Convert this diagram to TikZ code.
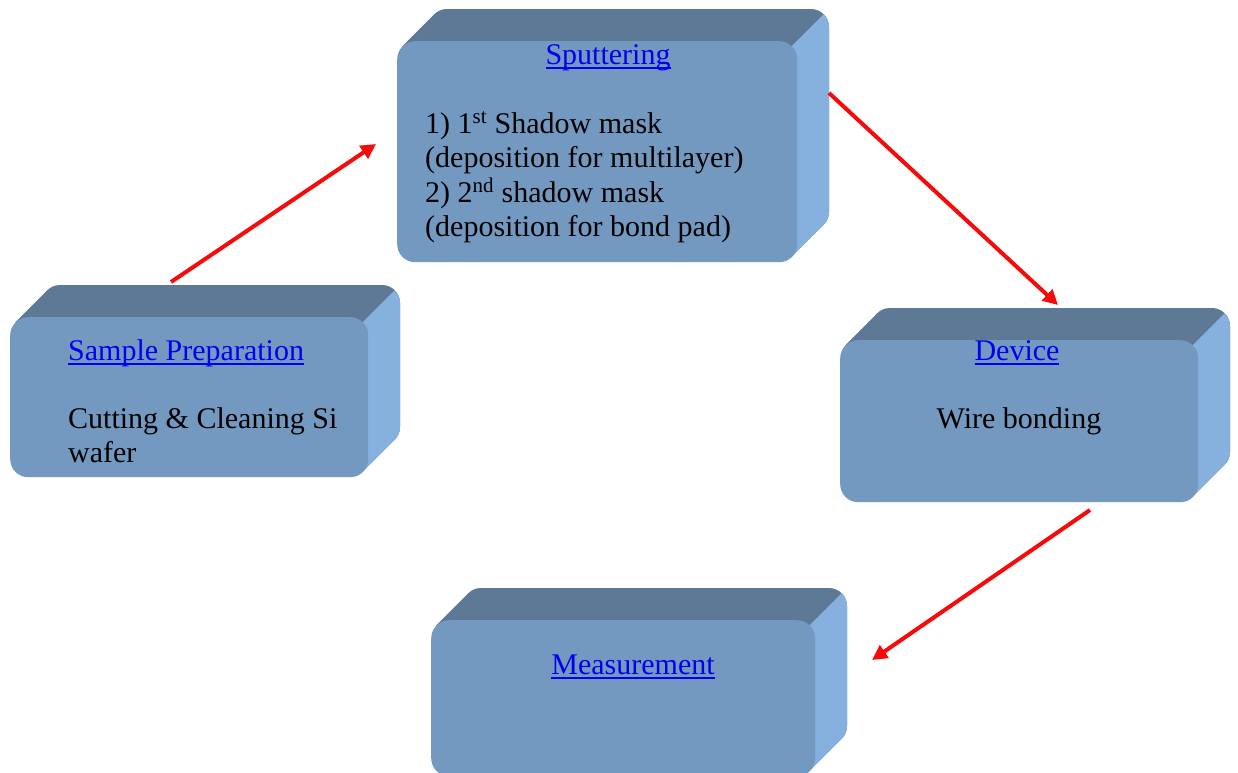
\documentclass[tikz,border=0pt]{standalone}
\usepackage{fontspec}
\setmainfont{Liberation Serif}
\usetikzlibrary{arrows.meta}
\definecolor{frontc}{HTML}{7499C1}
\definecolor{topc}{HTML}{5E7995}
\definecolor{sidec}{HTML}{86B1DE}
\definecolor{linkc}{HTML}{0000F0}
\definecolor{arrc}{HTML}{F70A0A}
\tikzset{
  lbl/.style={font=\fontsize{30}{34.5}\selectfont, inner sep=0pt, text=black},
  ttl/.style={font=\fontsize{30}{34.5}\selectfont, inner sep=0pt, text=linkc},
  flow/.style={draw=arrc, line width=4pt, -{Triangle[length=15pt,width=15pt]}},
}
\newcommand\ulink[1]{\setbox0\hbox{#1}\rlap{\rule[-4.6pt]{\wd0}{1.7pt}}\box0}
% sweep region of a rounded box, depth 32, radius 18 (tangent offset 5.3)
\newcommand\sweepfill[5]{%
  \fill[#1, rounded corners=18pt] (#2+32,#3-32) rectangle (#4+32,#5-32);
  \fill[#1] (#2+5.3,#3+5.3) -- (#2+37.3,#3-26.7) -- (#4+26.7,#3-26.7) -- (#4+26.7,#5-37.3) -- (#4-5.3,#5-5.3) -- (#2+5.3,#5-5.3) -- cycle;
}
% \boxcube{name}{x0}{y0}{x1}{y1}  (front face corners, y downward)
\newcommand\boxcube[5]{%
  \sweepfill{topc}{#2}{#3}{#4}{#5}
  \begin{scope}
    \clip (#4-300,#3+300) -- (#4+200,#3-200) -- (#4+400,#3-200) -- (#4+400,#5+400) -- (#4-300,#5+400) -- cycle;
    \sweepfill{sidec}{#2}{#3}{#4}{#5}
  \end{scope}
  \node[fill=frontc, rounded corners=18pt, inner sep=0pt, minimum width=#4-#2, minimum height=#5-#3, anchor=north west] (#1) at (#2,#3) {};
}
\begin{document}
\begin{tikzpicture}[x=1pt,y=-1pt]
\useasboundingbox (0,0) rectangle (1238,772);
\boxcube{sput}{397}{41}{797}{262}
\boxcube{prep}{10}{317}{368}{477}
\boxcube{dev}{840}{340}{1198}{502}
\boxcube{meas}{431}{620}{815}{776}

\node[ttl, anchor=base] (sputT) at (608,64) {\ulink{Sputtering}};
\node[lbl, anchor=base west] (sput1) at (425,133) {1) 1\textsuperscript{st} Shadow mask};
\node[lbl, anchor=base west] (sput2) at (425,167) {(deposition for multilayer)};
\node[lbl, anchor=base west] (sput3) at (425,202) {2) 2\textsuperscript{nd} shadow mask};
\node[lbl, anchor=base west] (sput4) at (425,236) {(deposition for bond pad)};

\node[ttl, anchor=base west] (prepT) at (68,360) {\ulink{Sample Preparation}};
\node[lbl, anchor=base west] (prep1) at (68,428) {Cutting \& Cleaning Si};
\node[lbl, anchor=base west] (prep2) at (68,462) {wafer};

\node[ttl, anchor=base] (devT) at (1017,360) {\ulink{Device}};
\node[lbl, anchor=base] (dev1) at (1019,428) {Wire bonding};

\node[ttl, anchor=base] (measT) at (633,674) {\ulink{Measurement}};

\coordinate (a1s) at (171,282);
\coordinate (a1e) at (376,144);
\coordinate (a2s) at (829,93);
\coordinate (a2e) at (1058,305);
\coordinate (a3s) at (1090,510);
\coordinate (a3e) at (872,660);
\draw[flow] (a1s) -- (a1e);
\draw[flow] (a2s) -- (a2e);
\draw[flow] (a3s) -- (a3e);
\end{tikzpicture}
\end{document}
